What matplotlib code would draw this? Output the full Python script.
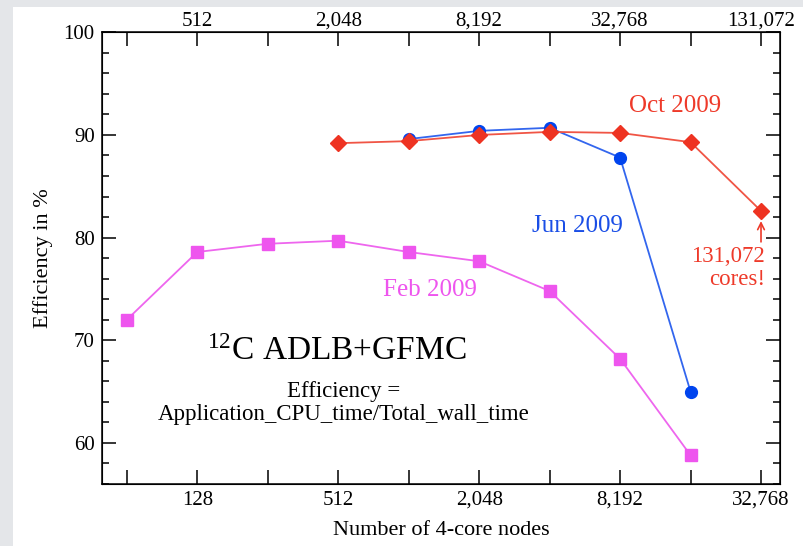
import numpy as np
import matplotlib
matplotlib.use("Agg")
import matplotlib.pyplot as plt
from matplotlib.ticker import FixedLocator, LogLocator, NullFormatter, FixedFormatter
from matplotlib.patches import Rectangle

plt.rcParams['font.family'] = ['Liberation Serif', 'DejaVu Serif']
plt.rcParams['mathtext.fontset'] = 'custom'
plt.rcParams['mathtext.rm'] = 'Liberation Serif'
plt.rcParams['mathtext.default'] = 'regular'

# -------------------------
# Data (number of 4-core nodes vs efficiency %)
# -------------------------
feb_nodes = [64, 128, 256, 512, 1024, 2048, 4096, 8192, 16384]
feb_eff = [72.0, 78.6, 79.4, 79.7, 78.6, 77.7, 74.8, 68.2, 58.8]

jun_nodes = [1024, 2048, 4096, 8192, 16384]
jun_eff = [89.6, 90.4, 90.7, 87.8, 65.0]

oct_nodes = [512, 1024, 2048, 4096, 8192, 16384, 32768]
oct_eff = [89.2, 89.4, 90.0, 90.3, 90.2, 89.3, 82.6]

major_nodes = [64, 128, 256, 512, 1024, 2048, 4096, 8192, 16384, 32768]
label_nodes = [128, 512, 2048, 8192, 32768]

def fmt(n):
    return f"{n:,}"

# -------------------------
# Figure
# -------------------------
fig = plt.figure(figsize=(8.04, 5.46), dpi=100)
fig.patch.set_facecolor('#e4e6e9')
fig.patches.append(Rectangle((13 / 804, 0), 1, 1 - 7 / 546, transform=fig.transFigure,
                             facecolor='white', edgecolor='none', zorder=-10))

ax = fig.add_axes([101.7 / 804, 62 / 546, 678.3 / 804, 451.7 / 546])

ax.plot(feb_nodes, feb_eff, '-', color='#ee66ee', lw=1.3, marker='s', ms=8,
        mfc='#ee55ee', mec='#ee55ee', zorder=3)
ax.plot(jun_nodes, jun_eff, '-', color='#3366ee', lw=1.3, marker='o', ms=8.5,
        mfc='#0044ee', mec='#0044ee', zorder=3)
ax.plot(oct_nodes, oct_eff, '-', color='#f05545', lw=1.3, marker='D', ms=8,
        mfc='#ee3322', mec='#ee3322', zorder=4)

ax.set_xscale('log', base=2)
ax.set_xlim(50, 39500)
ax.set_ylim(56, 100)

ax.xaxis.set_major_locator(FixedLocator(major_nodes))
ax.xaxis.set_major_formatter(FixedFormatter([fmt(n) if n in label_nodes else '' for n in major_nodes]))
ax.xaxis.set_minor_locator(LogLocator(base=2, subs=(1.25, 1.5, 1.75)))
ax.xaxis.set_minor_formatter(NullFormatter())

ax.set_yticks([60, 70, 80, 90, 100])
ax.set_yticks(np.arange(56, 101, 2), minor=True)

ax.tick_params(which='both', direction='in', right=True, top=False, labelsize=15, width=1.1)
ax.tick_params(which='major', length=10, pad=5)
ax.tick_params(which='minor', length=5)
for s in ax.spines.values():
    s.set_linewidth(1.1)

# top axis: cores = 4 x nodes
ax2 = ax.twiny()
ax2.set_xscale('log', base=2)
ax2.set_xlim(ax.get_xlim())
ax2.xaxis.set_major_locator(FixedLocator(major_nodes))
ax2.xaxis.set_major_formatter(FixedFormatter([fmt(4 * n) if n in label_nodes else '' for n in major_nodes]))
ax2.xaxis.set_minor_locator(LogLocator(base=2, subs=(1.25, 1.5, 1.75)))
ax2.xaxis.set_minor_formatter(NullFormatter())
ax2.tick_params(which='both', direction='in', labelsize=15, width=1.1)
ax2.tick_params(which='major', length=10, pad=1)
ax2.tick_params(which='minor', length=5)

ax.set_xlabel('Number of 4-core nodes', fontsize=16, labelpad=8)
ax.set_ylabel('Efficiency in %', fontsize=16, labelpad=8)

# labels
ax.text(0.846, 0.837, 'Oct 2009', transform=ax.transAxes, color='#ee3a2a', fontsize=18,
        ha='center', va='center')
ax.text(0.702, 0.571, 'Jun 2009', transform=ax.transAxes, color='#1a4ee6', fontsize=18,
        ha='center', va='center')
ax.text(0.484, 0.429, 'Feb 2009', transform=ax.transAxes, color='#ee55ee', fontsize=18,
        ha='center', va='center')
ax.annotate('', xy=(0.972, 0.582), xytext=(0.972, 0.536), xycoords='axes fraction',
            arrowprops=dict(arrowstyle='->', color='#ee3a2a', lw=1.2,
                            shrinkA=0, shrinkB=0, mutation_scale=12))
ax.text(0.978, 0.478, '131,072\ncores!', transform=ax.transAxes, color='#ee3a2a', fontsize=16.5,
        ha='right', va='center', linespacing=1.1)
ax.text(0.347, 0.292, '$^{12}$C ADLB+GFMC', transform=ax.transAxes, fontsize=24,
        ha='center', va='center')
ax.text(0.356, 0.179, 'Efficiency =\nApplication_CPU_time/Total_wall_time', transform=ax.transAxes,
        fontsize=16.5, ha='center', va='center', linespacing=1.1)

fig.savefig('out.png', dpi=100, facecolor=fig.get_facecolor())
